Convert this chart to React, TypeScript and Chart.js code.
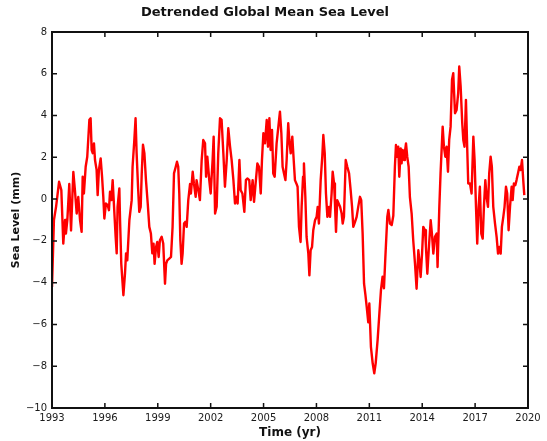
import React, { useEffect, useRef } from "react";
import { Chart, registerables } from "chart.js";

Chart.register(...registerables);

const chartTitle = "Detrended Global Mean Sea Level";
const xAxisTitle = "Time (yr)";
const yAxisTitle = "Sea Level (mm)";

const xTickYears = [1993, 1996, 1999, 2002, 2005, 2008, 2011, 2014, 2017, 2020];
const yTickValues = [-10, -8, -6, -4, -2, 0, 2, 4, 6, 8];

const years = [
  1993.0, 1993.11, 1993.23, 1993.4, 1993.53, 1993.64, 1993.74, 1993.79, 1993.87, 1993.98,
  1994.08, 1994.21, 1994.3, 1994.4, 1994.49, 1994.59, 1994.68, 1994.74, 1994.81, 1994.91,
  1995.0, 1995.12, 1995.19, 1995.25, 1995.31, 1995.38, 1995.44, 1995.53, 1995.59, 1995.66,
  1995.76, 1995.84, 1995.91, 1995.97, 1996.06, 1996.16, 1996.23, 1996.29, 1996.37, 1996.44,
  1996.52, 1996.61, 1996.67, 1996.72, 1996.82, 1996.86, 1996.93, 1997.05, 1997.14, 1997.2,
  1997.27, 1997.39, 1997.52, 1997.57, 1997.67, 1997.74, 1997.8, 1997.88, 1997.95, 1998.03,
  1998.09, 1998.16, 1998.24, 1998.33, 1998.43, 1998.52, 1998.61, 1998.69, 1998.76, 1998.82,
  1998.9, 1998.97, 1999.05, 1999.12, 1999.22, 1999.31, 1999.41, 1999.47, 1999.54, 1999.65,
  1999.75, 1999.84, 1999.92, 2000.02, 2000.09, 2000.16, 2000.22, 2000.28, 2000.35, 2000.41,
  2000.49, 2000.56, 2000.64, 2000.73, 2000.83, 2000.88, 2000.98, 2001.05, 2001.15, 2001.2,
  2001.3, 2001.39,
  2001.49, 2001.58, 2001.68, 2001.74, 2001.81, 2001.92, 2002.0, 2002.11, 2002.17, 2002.25,
  2002.34, 2002.43, 2002.53, 2002.62, 2002.72, 2002.81, 2002.91, 2003.0, 2003.1, 2003.19,
  2003.29, 2003.38, 2003.47, 2003.53, 2003.63, 2003.7, 2003.8, 2003.91, 2004.0, 2004.08,
  2004.19, 2004.27, 2004.38, 2004.46, 2004.55, 2004.65, 2004.74, 2004.84, 2004.91, 2004.99,
  2005.08, 2005.18, 2005.25, 2005.33, 2005.4, 2005.48, 2005.55, 2005.63, 2005.74, 2005.84,
  2005.93, 2006.01, 2006.08, 2006.16, 2006.24, 2006.31, 2006.4, 2006.46, 2006.54, 2006.63,
  2006.71, 2006.78, 2006.86, 2006.93, 2007.01, 2007.1, 2007.16, 2007.24, 2007.29, 2007.37,
  2007.44, 2007.54, 2007.6, 2007.67, 2007.75, 2007.82, 2007.92, 2008.01, 2008.07, 2008.14,
  2008.24, 2008.33, 2008.39, 2008.47, 2008.54, 2008.62, 2008.71, 2008.77, 2008.86, 2008.92,
  2009.0, 2009.05, 2009.11, 2009.18, 2009.26, 2009.34, 2009.43, 2009.49, 2009.56, 2009.66,
  2009.75, 2009.85, 2009.94, 2010.02, 2010.09, 2010.19, 2010.28, 2010.37, 2010.47, 2010.54,
  2010.62, 2010.7, 2010.78, 2010.85, 2010.94, 2011.0, 2011.09, 2011.19, 2011.28, 2011.36,
  2011.47, 2011.57, 2011.66, 2011.75, 2011.83, 2011.91, 2012.02, 2012.08, 2012.17, 2012.27,
  2012.36,
  2012.45, 2012.51, 2012.58, 2012.64, 2012.7, 2012.78, 2012.83, 2012.89, 2012.97, 2013.02,
  2013.08, 2013.15, 2013.23, 2013.3, 2013.4, 2013.49, 2013.59, 2013.68, 2013.78, 2013.84,
  2013.91, 2013.99, 2014.06, 2014.16, 2014.21, 2014.29, 2014.38, 2014.48, 2014.55, 2014.63,
  2014.72, 2014.82, 2014.87, 2014.97, 2015.04, 2015.16, 2015.23, 2015.31, 2015.38, 2015.46,
  2015.53, 2015.61, 2015.69, 2015.76, 2015.86, 2015.95, 2016.04, 2016.1, 2016.18, 2016.27,
  2016.33, 2016.4, 2016.48, 2016.55, 2016.61, 2016.71, 2016.8, 2016.9, 2016.97, 2017.05,
  2017.12, 2017.2, 2017.27, 2017.35, 2017.43, 2017.5, 2017.58, 2017.65, 2017.73, 2017.8,
  2017.88, 2017.95, 2018.03, 2018.13, 2018.22, 2018.3, 2018.37, 2018.45, 2018.52, 2018.6,
  2018.67, 2018.75, 2018.82, 2018.9, 2018.98, 2019.07, 2019.13, 2019.2, 2019.28, 2019.35,
  2019.43, 2019.51, 2019.58, 2019.66, 2019.73, 2019.79,
];

const seaLevel = [
  -4.2, -1.0, -0.37, 0.83, 0.43, -2.13, -1.0, -1.65, -1.0, 0.72,
  -1.5, 1.3, 0.43, -0.69, 0.1, -1.0, -1.57, 1.07, 0.27, 1.55,
  2.03, 3.8, 3.87, 2.35, 2.2, 2.67, 1.87, 1.4, 0.19, 1.4,
  1.95, 1.07, 0.11, -0.93, -0.21, -0.29, -0.53, 0.35, -0.05, 0.91,
  -0.37, -1.8, -2.6, -0.37, 0.51, -1.0, -3.1, -4.6, -3.57, -2.6,
  -2.93, -1.0, -0.05, 1.55, 2.83, 3.87, 2.2, 0.6, -0.61, -0.37,
  1.23, 2.6, 2.2, 0.91, -0.21, -1.33, -1.65, -2.6, -2.13, -3.1,
  -2.3, -2.05, -2.77, -1.97, -1.8, -2.13, -4.05, -3.1, -2.93, -2.85,
  -2.77, -1.33, 1.23, 1.55, 1.79, 1.55, 0.27, -1.97, -3.1, -2.6,
  -1.17, -1.09, -1.33, -0.05, 0.72, 0.27, 1.31, 0.75, 0.11, 0.91,
  0.43, -0.05,
  1.87, 2.83, 2.67, 1.07, 2.03, 0.91, 0.27, 1.87, 2.99, -0.69,
  -0.37, 2.19, 3.87, 3.79, 2.19, 0.59, 1.87, 3.39, 2.51, 1.87,
  0.91, -0.21, 0.11, -0.21, 1.87, 0.43, 0.27, -0.61, 0.91, 0.99,
  0.91, -0.05, 0.91, -0.13, 0.75, 1.71, 1.55, 0.27, 1.87, 3.15,
  2.67, 3.79, 2.51, 3.87, 2.35, 3.31, 1.23, 1.07, 2.67, 3.47,
  4.19, 3.15, 1.55, 1.23, 0.91, 1.87, 3.63, 2.83, 2.19, 2.99,
  1.87, 0.91, 0.75, 0.59, -1.33, -2.05, -0.37, 1.07, 1.71, 0.11,
  -1.81, -2.61, -3.65, -2.45, -2.29, -1.49, -1.01, -0.85, -0.37, -1.17,
  0.91, 2.03, 3.07, 2.19, 0.27, -0.85, -0.37, -0.85, 0.27, 1.31,
  0.75, -0.21, -1.57, -0.05, -0.21, -0.37, -0.69, -1.17, -0.85, 1.87,
  1.55, 1.23, 0.43, -0.37, -1.33, -1.09, -0.85, -0.37, 0.11, -0.05,
  -1.65, -4.05, -4.6, -5.15, -5.9, -5.0, -7.07, -7.86, -8.34, -7.86,
  -6.74, -5.47, -4.35, -3.71, -4.27, -2.76, -0.84, -0.52, -1.17, -1.24,
  -0.8,
  1.55, 2.59, 2.03, 2.51, 1.07, 2.43, 1.71, 2.35, 1.87, 2.27,
  2.67, 2.03, 1.55, 0.11, -0.69, -1.97, -3.09, -4.29, -2.45, -2.93,
  -3.73, -2.61, -1.33, -1.49, -2.29, -3.57, -2.29, -1.01, -1.65, -2.61,
  -1.81, -1.65, -3.25, -0.37, 1.23, 3.47, 2.51, 2.03, 2.51, 1.31,
  2.83, 3.47, 5.71, 6.03, 4.11, 4.27, 5.07, 6.35, 5.39, 3.63,
  2.83, 2.51, 4.75, 2.51, 0.75, 0.75, 0.27, 2.99, 1.87, -0.37,
  -2.13, -0.37, 0.59, -1.65, -1.89, -0.37, 0.91, 0.11, -0.37, 1.23,
  2.03, 1.55, -0.37, -1.17, -1.81, -2.61, -2.29, -2.61, -1.33, -0.85,
  -0.37, 0.59, 0.27, -1.49, -0.37, 0.59, -0.05, 0.75, 0.67, 0.91,
  1.23, 1.55, 1.39, 1.87, 0.91, 0.19,
];

const fmtNum = (v: number) => (v < 0 ? "\u2212" + Math.abs(v) : String(v));

const boxPlugin = {
  id: "matlabBox",
  afterDatasetsDraw(chart: any) {
    const { ctx, chartArea: a, scales } = chart;
    ctx.save();
    ctx.strokeStyle = "#111";
    ctx.lineWidth = 1.5;
    const tl = 5;
    ctx.beginPath();
    xTickYears.forEach((v) => {
      const px = scales.x.getPixelForValue(v);
      ctx.moveTo(px, a.bottom);
      ctx.lineTo(px, a.bottom - tl);
      ctx.moveTo(px, a.top);
      ctx.lineTo(px, a.top + tl);
    });
    yTickValues.forEach((v) => {
      const py = scales.y.getPixelForValue(v);
      ctx.moveTo(a.left, py);
      ctx.lineTo(a.left + tl, py);
      ctx.moveTo(a.right, py);
      ctx.lineTo(a.right - tl, py);
    });
    ctx.stroke();
    ctx.lineWidth = 2;
    ctx.strokeRect(a.left, a.top, a.right - a.left, a.bottom - a.top);
    ctx.restore();
  },
};

const titlePlugin = {
  id: "figTitle",
  afterDraw(chart: any) {
    const { ctx } = chart;
    ctx.save();
    ctx.fillStyle = "#111";
    ctx.font = "bold 13px 'DejaVu Sans'";
    ctx.textAlign = "center";
    ctx.textBaseline = "middle";
    ctx.fillText(chartTitle, 265, 13);
    ctx.restore();
  },
};

export default function App() {
  const ref = useRef<HTMLCanvasElement | null>(null);

  useEffect(() => {
    if (!ref.current) return;
    const points = years.map((x, i) => ({ x, y: seaLevel[i] }));
    const chart = new Chart(ref.current, {
      type: "line",
      data: {
        datasets: [
          {
            data: points,
            borderColor: "#ff0000",
            borderWidth: 2.4,
            borderJoinStyle: "round",
            pointRadius: 0,
            tension: 0,
            fill: false,
          },
        ],
      },
      options: {
        responsive: false,
        animation: false,
        parsing: false,
        layout: { padding: { left: 0, right: 19, top: 32, bottom: 0 } },
        plugins: {
          legend: { display: false },
          tooltip: { enabled: false },
          title: { display: false },
        },
        scales: {
          x: {
            type: "linear",
            min: 1993,
            max: 2020,
            grid: { display: false, drawTicks: false },
            border: { display: false },
            afterBuildTicks: (s: any) => {
              s.ticks = xTickYears.map((v) => ({ value: v }));
            },
            afterFit: (s: any) => {
              s.height = 33;
            },
            ticks: {
              autoSkip: false,
              maxRotation: 0,
              padding: 4,
              color: "#1a1a1a",
              font: { family: "'DejaVu Sans'", size: 10 },
              callback: (v: any) => String(v),
            },
            title: {
              display: true,
              text: xAxisTitle,
              color: "#111",
              font: { family: "'DejaVu Sans'", size: 12, weight: "bold" },
              padding: { top: 0, bottom: 1 },
            },
          },
          y: {
            type: "linear",
            min: -10,
            max: 8,
            grid: { display: false, drawTicks: false },
            border: { display: false },
            afterBuildTicks: (s: any) => {
              s.ticks = yTickValues.map((v) => ({ value: v }));
            },
            afterFit: (s: any) => {
              s.width = 52;
            },
            ticks: {
              autoSkip: false,
              padding: 5,
              color: "#1a1a1a",
              font: { family: "'DejaVu Sans'", size: 10 },
              callback: (v: any) => fmtNum(Number(v)),
            },
            title: {
              display: true,
              text: yAxisTitle,
              color: "#111",
              font: { family: "'DejaVu Sans'", size: 11, weight: "bold" },
              padding: { top: 10, bottom: 0 },
            },
          },
        },
      },
      plugins: [boxPlugin, titlePlugin],
    } as any);
    return () => chart.destroy();
  }, []);

  return (
    <div style={{ position: "fixed", left: 0, top: 0, width: 547, height: 441, background: "#fff" }}>
      <canvas ref={ref} width={547} height={441} style={{ width: 547, height: 441, display: "block" }} />
    </div>
  );
}
